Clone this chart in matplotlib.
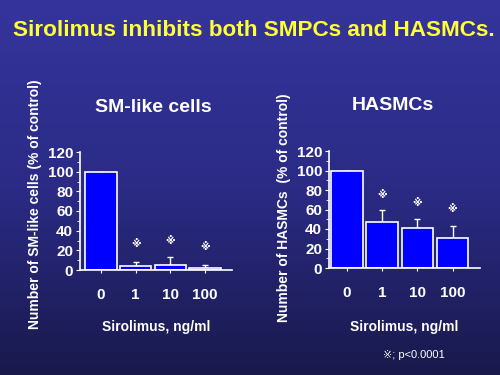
import numpy as np
import matplotlib
matplotlib.use('Agg')
import matplotlib.pyplot as plt
from matplotlib.colors import LinearSegmentedColormap

plt.rcParams['font.family'] = ['Liberation Sans', 'DejaVu Sans', 'Noto Sans CJK JP']
plt.rcParams['font.weight'] = 'bold'

# data
doses = ['0', '1', '10', '100']
sm_vals = [100, 4, 5, 2]
sm_err = [0, 4.4, 8.5, 3]
sm_star = [None, 26, 30, 23]
ha_vals = [100, 47, 41, 31]
ha_err = [0, 12.5, 9, 12.5]
ha_star = [None, 75, 67, 60]

fig = plt.figure(figsize=(5, 3.75), dpi=100)

# gradient background
bg = fig.add_axes([0, 0, 1, 1], zorder=-10)
cmap = LinearSegmentedColormap.from_list('bg', ['#19194c', '#2b2b86', '#34349c'])
grad = np.linspace(0, 1, 256).reshape(-1, 1)
bg.imshow(grad, aspect='auto', cmap=cmap, origin='lower', extent=[0, 1, 0, 1])
bg.axis('off')

fig.text(253.5 / 500, 1 - 30 / 375, 'Sirolimus inhibits both SMPCs and HASMCs.',
         color='#ffff33', fontsize=16.2, fontweight='bold', ha='center', va='center')


def panel(rect, vals, err, stars, xlim, title, title_xy, ylabel, ylabel_xy):
    ax = fig.add_axes(rect)
    ax.patch.set_alpha(0)
    x = np.arange(len(vals))
    ax.bar(x, vals, width=0.9, color='#0000ff', edgecolor='white', linewidth=1.2, zorder=2)
    ax.errorbar(x, vals, yerr=[np.zeros(len(err)), err], fmt='none', ecolor='white',
                elinewidth=1, capsize=2, capthick=1, zorder=1)
    for i, s in enumerate(stars):
        if s is not None:
            ax.text(i, s, '※', color='white', fontsize=7, ha='center', va='center',
                    family=['DejaVu Sans', 'Noto Sans CJK JP'])
    ax.set_ylim(0, 120)
    ax.set_xlim(*xlim)
    ax.set_yticks(range(0, 121, 20))
    ax.set_yticks(range(10, 120, 20), minor=True)
    ax.set_xticks(x)
    ax.set_xticklabels(doses)
    for sp in ['top', 'right']:
        ax.spines[sp].set_visible(False)
    for sp in ['left', 'bottom']:
        ax.spines[sp].set_color('white')
        ax.spines[sp].set_linewidth(1.2)
    ax.tick_params(axis='y', colors='white', labelsize=11, length=3, pad=2)
    ax.tick_params(axis='y', which='minor', colors='white', length=2)
    ax.tick_params(axis='x', colors='white', labelsize=11, length=2, pad=11)
    for lab in ax.get_xticklabels() + ax.get_yticklabels():
        lab.set_fontweight('bold')
    fig.text(title_xy[0], title_xy[1], title, color='white', fontsize=14,
             fontweight='bold', ha='center', va='center')
    cx = rect[0] + rect[2] * 0.5
    fig.text(cx, 1 - 327 / 375, 'Sirolimus, ng/ml', color='white', fontsize=10,
             fontweight='bold', ha='center', va='center')
    fig.text(ylabel_xy[0], ylabel_xy[1], ylabel, color='white', fontsize=10,
             fontweight='bold', ha='center', va='center', rotation=90)
    return ax


panel([80 / 500, 1 - 270 / 375, 152 / 500, 118 / 375], sm_vals, sm_err, sm_star,
      (-0.605, 3.78), 'SM-like cells', (153 / 500, 1 - 107 / 375),
      'Number of SM-like cells (% of control)', (35 / 500, 1 - 204 / 375))
panel([329 / 500, 1 - 268 / 375, 151 / 500, 117 / 375], ha_vals, ha_err, ha_star,
      (-0.51, 3.78), 'HASMCs', (393 / 500, 1 - 105 / 375),
      'Number of HASMCs  (% of control)', (284 / 500, 1 - 208 / 375))

fig.text(383 / 500, 1 - 355 / 375, '※; p<0.0001', color='white', fontsize=8,
         ha='left', va='center', fontweight='normal',
         family=['Liberation Sans', 'DejaVu Sans', 'Noto Sans CJK JP'])

fig.savefig('out.png', dpi=100)
